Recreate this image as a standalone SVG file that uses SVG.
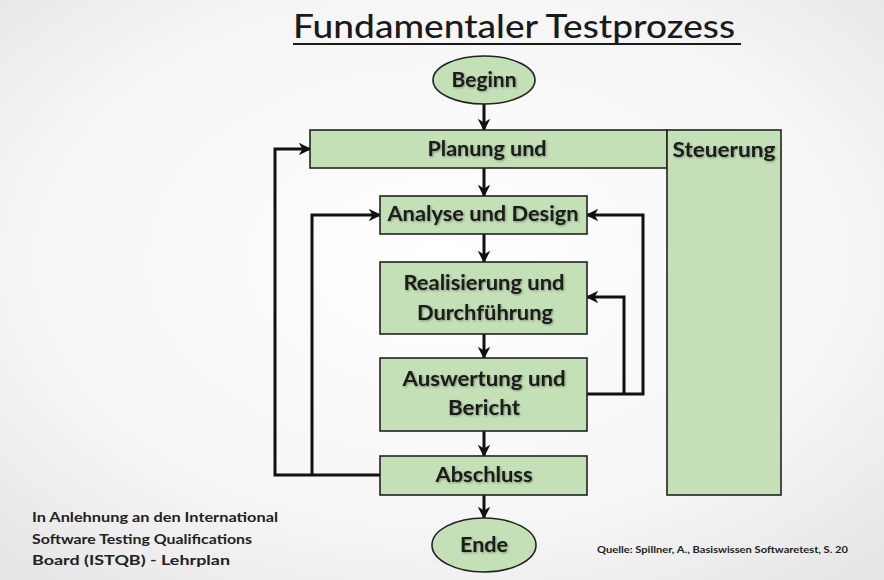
<svg xmlns="http://www.w3.org/2000/svg" width="884" height="580" viewBox="0 0 884 580">
<defs>
  <radialGradient id="bg" cx="0.5" cy="0.45" r="0.75">
    <stop offset="0" stop-color="#ffffff"/>
    <stop offset="0.6" stop-color="#f6f6f6"/>
    <stop offset="1" stop-color="#e4e4e4"/>
  </radialGradient>
  <filter id="sh" x="-10%" y="-30%" width="120%" height="160%">
    <feDropShadow dx="1" dy="1" stdDeviation="1.2" flood-color="#000" flood-opacity="0.35"/>
  </filter>
  <marker id="ah" viewBox="0 0 10 10" refX="9" refY="5" markerWidth="4.2" markerHeight="4.2" orient="auto" markerUnits="strokeWidth">
    <path d="M0,0 L10,5 L0,10 L3,5 Z" fill="#111"/>
  </marker>
  <style>
    .box{fill:#c4e0b6;stroke:#222;stroke-width:1.6}
    .lbl{font-family:Lato,"Open Sans","Liberation Sans",sans-serif;font-weight:bold;font-size:20px;fill:#1a1a1a;text-anchor:middle;filter:url(#sh)}
    .con{fill:none;stroke:#111;stroke-width:3}
    .arr{marker-end:url(#ah)}
    .note{font-family:Lato,"Open Sans","Liberation Sans",sans-serif;font-weight:bold;font-size:13px;fill:#222}
  </style>
</defs>
<rect width="884" height="580" fill="url(#bg)"/>

<g id="title">
  <text x="514" y="38" text-anchor="middle" font-family="Lato,'Open Sans','Liberation Sans',sans-serif" font-size="33" font-weight="500" fill="#1a1a1a" textLength="442" lengthAdjust="spacingAndGlyphs">Fundamentaler Testprozess</text>
  <line x1="293" y1="44" x2="741" y2="44" stroke="#1a1a1a" stroke-width="2"/>
</g>

<g id="connectors">
  <line class="con arr" x1="484" y1="103" x2="484" y2="130"/>
  <line class="con arr" x1="484" y1="168" x2="484" y2="196"/>
  <line class="con arr" x1="484" y1="234" x2="484" y2="262"/>
  <line class="con arr" x1="484" y1="334" x2="484" y2="358"/>
  <line class="con arr" x1="484" y1="431" x2="484" y2="456"/>
  <line class="con arr" x1="484" y1="495" x2="484" y2="518"/>
  <polyline class="con arr" points="380,475 275,475 275,149 310,149"/>
  <polyline class="con arr" points="312,475 312,215 380,215"/>
  <polyline class="con arr" points="587,394 643,394 643,215 587,215"/>
  <polyline class="con arr" points="624,394 624,297 587,297"/>
</g>

<g id="beginn">
  <ellipse class="box" cx="484" cy="80" rx="51" ry="24"/>
  <text class="lbl" x="484" y="87" textLength="65" lengthAdjust="spacingAndGlyphs">Beginn</text>
</g>

<g id="planung">
  <rect class="box" x="310" y="130" width="357" height="38"/>
  <text class="lbl" x="487" y="156" textLength="119" lengthAdjust="spacingAndGlyphs">Planung und</text>
</g>

<g id="steuerung">
  <rect class="box" x="667" y="130" width="114" height="365"/>
  <text class="lbl" x="724" y="157" textLength="103" lengthAdjust="spacingAndGlyphs">Steuerung</text>
</g>

<g id="analyse">
  <rect class="box" x="380" y="196" width="207" height="38"/>
  <text class="lbl" x="483" y="221" textLength="191" lengthAdjust="spacingAndGlyphs">Analyse und Design</text>
</g>

<g id="realisierung">
  <rect class="box" x="380" y="262" width="207" height="72"/>
  <text class="lbl" x="484" y="290" textLength="161" lengthAdjust="spacingAndGlyphs">Realisierung und</text>
  <text class="lbl" x="485" y="320" textLength="136" lengthAdjust="spacingAndGlyphs">Durchführung</text>
</g>

<g id="auswertung">
  <rect class="box" x="380" y="358" width="207" height="73"/>
  <text class="lbl" x="484" y="386" textLength="163" lengthAdjust="spacingAndGlyphs">Auswertung und</text>
  <text class="lbl" x="484" y="415" textLength="72" lengthAdjust="spacingAndGlyphs">Bericht</text>
</g>

<g id="abschluss">
  <rect class="box" x="380" y="456" width="207" height="39"/>
  <text class="lbl" x="484" y="482" textLength="97" lengthAdjust="spacingAndGlyphs">Abschluss</text>
</g>

<g id="ende">
  <ellipse class="box" cx="484" cy="545" rx="52" ry="27"/>
  <text class="lbl" x="484" y="552" textLength="48" lengthAdjust="spacingAndGlyphs">Ende</text>
</g>

<g id="notes">
  <text class="note" x="32" y="522" textLength="246" lengthAdjust="spacingAndGlyphs">In Anlehnung an den International</text>
  <text class="note" x="32" y="544" textLength="220" lengthAdjust="spacingAndGlyphs">Software Testing Qualifications</text>
  <text class="note" x="32" y="565" textLength="198" lengthAdjust="spacingAndGlyphs">Board (ISTQB) - Lehrplan</text>
  <text x="597" y="553" font-family="Lato,'Liberation Sans',sans-serif" font-weight="bold" font-size="9.5" fill="#222" textLength="251" lengthAdjust="spacingAndGlyphs">Quelle: Spillner, A., Basiswissen Softwaretest, S. 20</text>
</g>
</svg>
